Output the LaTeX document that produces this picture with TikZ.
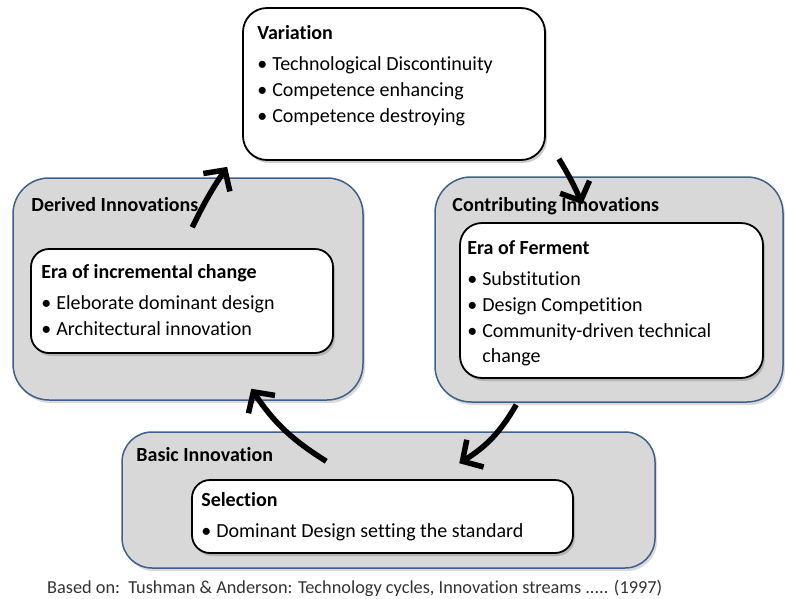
\documentclass[tikz,border=0pt]{standalone}
\usepackage{fontspec}
\setmainfont{Carlito}[Ligatures={NoCommon}]
\usetikzlibrary{arrows.meta,shadows}
\definecolor{boxgray}{RGB}{216,216,216}
\definecolor{boxedge}{RGB}{62,96,140}
\newcommand{\itm}[1]{\makebox[15pt][l]{\textbullet}#1}

\begin{document}
\begin{tikzpicture}[x=1pt, y=-1pt,
font=\fontsize{20}{24.5}\selectfont,
graybox/.style={draw=boxedge, line width=1.5pt, fill=boxgray, rounded corners=36pt,
  drop shadow={shadow xshift=2pt, shadow yshift=-3pt, opacity=.3}},
whitebox/.style={draw=black, line width=1.8pt, fill=white, rounded corners=18pt,
  drop shadow={shadow xshift=2pt, shadow yshift=-3pt, opacity=.4}},
grouptitle/.style={font=\fontsize{20}{24.5}\selectfont\bfseries, anchor=north west, inner sep=0pt},
listtext/.style={align=left, anchor=north west, inner sep=0pt},
bigarrow/.style={line width=5.5pt, -{Straight Barb[length=15pt,width=32pt]}},
]
\useasboundingbox (0,0) rectangle (785,598);

% outer groups
\node[graybox, minimum width=350pt, minimum height=222pt] (derived) at (188,289) {};
\node[graybox, minimum width=348pt, minimum height=225pt] (contrib) at (609,289.5) {};
\node[graybox, minimum width=533pt, minimum height=136pt, rounded corners=30pt] (basic) at (388.5,500) {};

% inner boxes
\node[whitebox, minimum width=302pt, minimum height=152pt, rounded corners=24pt] (var) at (394,84) {};
\node[whitebox, minimum width=302pt, minimum height=104pt] (incr) at (182,301) {};
\node[whitebox, minimum width=303pt, minimum height=155pt, rounded corners=22pt] (ferment) at (611.5,300.5) {};
\node[whitebox, minimum width=381pt, minimum height=73pt] (select) at (382.5,516.5) {};

% group titles
\node[grouptitle] (derivedtitle) at ([shift={(19pt,-20pt)}]derived.north west) {Derived Innovations};
\node[grouptitle] (contribtitle) at ([shift={(18pt,-21pt)}]contrib.north west) {Contributing Innovations};
\node[grouptitle] (basictitle) at ([shift={(15pt,-16pt)}]basic.north west) {Basic Innovation};

% box texts
\node[listtext] (vartext) at ([shift={(15pt,-18pt)}]var.north west)
  {\textbf{Variation}\\[7pt]
   \itm{Technological Discontinuity}\\[1.5pt]
   \itm{Competence enhancing}\\[1.5pt]
   \itm{Competence destroying}};
\node[listtext] (incrtext) at ([shift={(11pt,-16pt)}]incr.north west)
  {\textbf{Era of incremental change}\\[7pt]
   \itm{Eleborate dominant design}\\[1.5pt]
   \itm{Architectural innovation}};
\node[listtext] (fermenttext) at ([shift={(8pt,-18pt)}]ferment.north west)
  {\textbf{Era of Ferment}\\[7pt]
   \itm{Substitution}\\[1.5pt]
   \itm{Design Competition}\\[1.5pt]
   \itm{Community-driven technical}\\
   \hspace*{15pt}change};
\node[listtext] (selecttext) at ([shift={(10pt,-13pt)}]select.north west)
  {\textbf{Selection}\\[7pt]
   \itm{Dominant Design setting the standard}};

% source line
\node[anchor=west, inner sep=0pt, font=\fontsize{18.3}{22}\selectfont, text=black!80] (source) at (47,588)
  {Based on:\ \ Tushman \& Anderson: Technology cycles, Innovation streams ..... (1997)};

% cycle arrows
\draw[bigarrow] ([shift={(180pt,-50pt)}]derived.north west) to[bend left=4] ([shift={(-15pt,-6pt)}]var.south west);
\draw[bigarrow] ([shift={(13pt,2pt)}]var.south east) to[bend left=4] ([shift={(148pt,-28pt)}]contrib.north west);
\draw[bigarrow] ([shift={(82pt,-2pt)}]contrib.south west) to[bend left=14] ([shift={(338pt,-32pt)}]basic.north west);
\draw[bigarrow] ([shift={(205pt,-30pt)}]basic.north west) to[bend left=12] ([shift={(239pt,12pt)}]derived.south west);

\end{tikzpicture}
\end{document}
